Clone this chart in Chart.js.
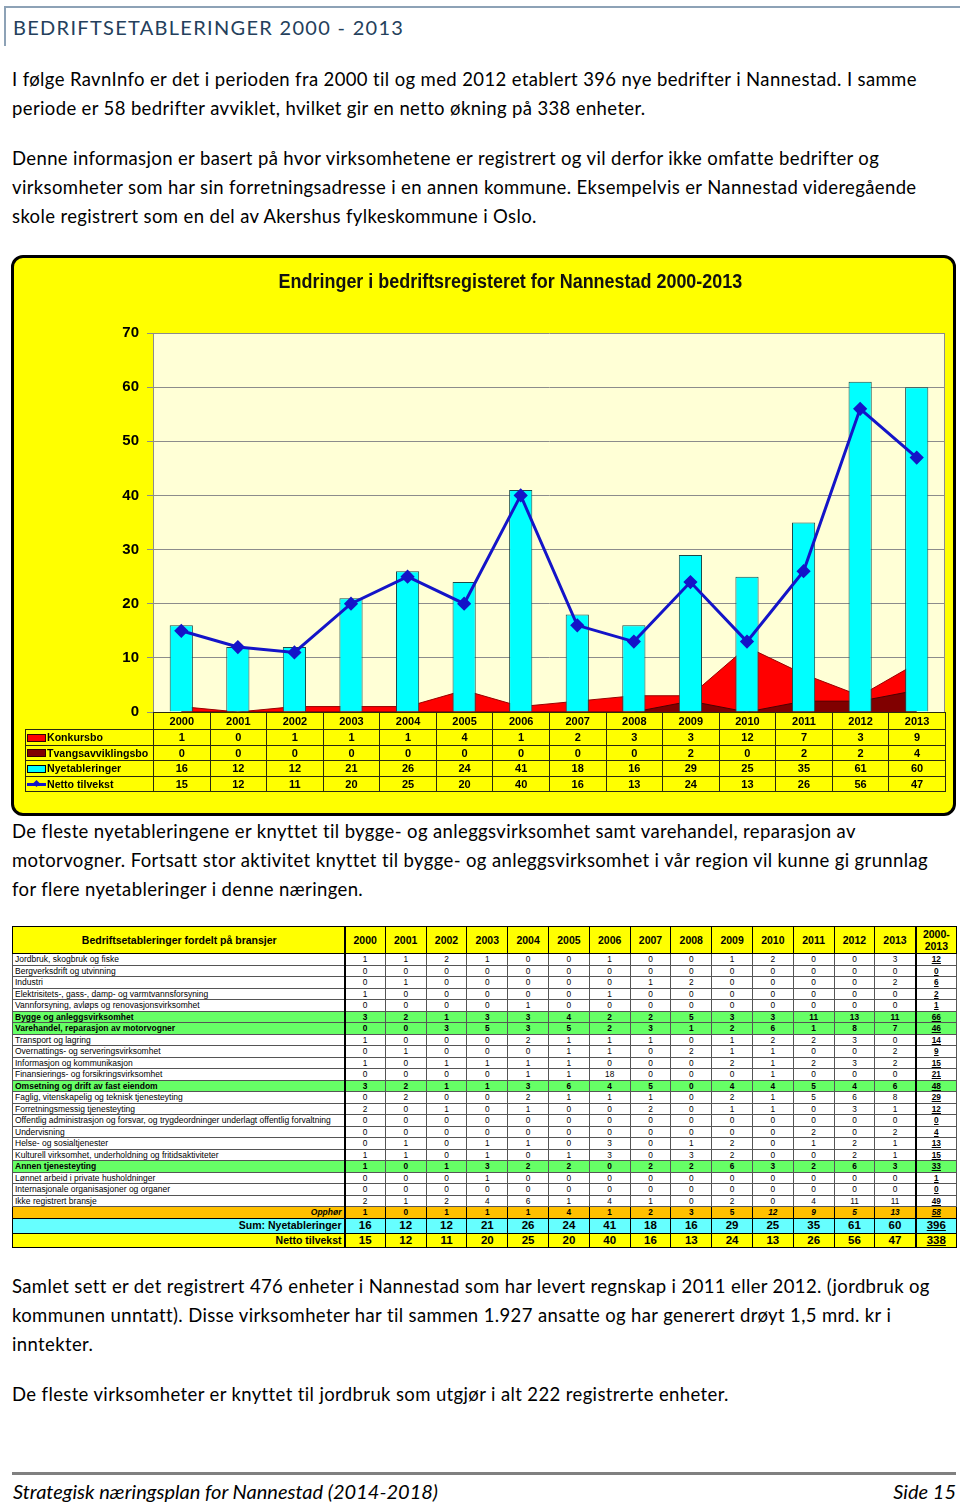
<!DOCTYPE html>
<html><head><meta charset="utf-8">
<script src="https://cdn.jsdelivr.net/npm/chart.js@4.4.1/dist/chart.umd.min.js"></script>
<style>
html,body{margin:0;padding:0;background:#fff;}
body{width:960px;height:1503px;position:relative;overflow:hidden;font-family:Lato,'Open Sans',sans-serif;color:#000;}
.hdrbox{position:absolute;left:4px;top:6px;width:956px;height:38px;border-top:2px solid #8da2b6;border-left:2px solid #8da2b6;}
.hdr{position:absolute;left:13px;top:13px;font-family:Lato,sans-serif;font-size:20px;letter-spacing:1.3px;color:#243f5c;white-space:nowrap;line-height:28px;}
.ln{position:absolute;left:12px;white-space:nowrap;font-family:Lato,sans-serif;font-size:18.5px;letter-spacing:0.37px;line-height:24px;}
.frame{position:absolute;left:11px;top:255px;width:945px;height:561px;box-sizing:border-box;background:#ffff00;border:3px solid #000;border-radius:12px;}
#cv{position:absolute;left:12px;top:256px;}
.ctitle{position:absolute;left:12px;width:996px;top:269px;text-align:center;}
.ctitle span{display:inline-block;transform:scaleX(0.897);transform-origin:50% 50%;font-family:'Liberation Sans',Arial,sans-serif;font-weight:bold;font-size:20px;line-height:24px;color:#111;white-space:nowrap;}
#dt{position:absolute;left:25px;top:712px;border-collapse:collapse;table-layout:fixed;font-family:'Liberation Sans',Arial,sans-serif;font-weight:bold;font-size:11px;color:#000;}
#dt td{border:1px solid #2a2a10;padding:0;text-align:center;white-space:nowrap;overflow:hidden;}
#dt tr{height:15.6px;}
#dt tr.h{height:17px;}
#dt td.blank{border:none;}
#dt td.lab{text-align:left;padding-left:1px;font-size:10.6px;}
.k{display:inline-block;width:17px;height:6px;border:1px solid #300;vertical-align:middle;margin-right:1px;position:relative;top:-1px;}
.kl{display:inline-block;width:19px;height:3px;background:#1414c8;vertical-align:middle;margin-right:1px;position:relative;top:-1px;}
.kl:after{content:'';position:absolute;left:7px;top:-2px;width:5px;height:5px;background:#1414c8;transform:rotate(45deg);}
#bt{position:absolute;left:12px;top:926px;width:943px;border-collapse:collapse;table-layout:fixed;font-family:'Liberation Sans',Arial,sans-serif;color:#000;}
#bt td{border:1px solid #555;padding:0;text-align:center;white-space:nowrap;overflow:hidden;font-size:8.3px;line-height:10px;}
#bt tr{height:11.5px;}
#bt td.l{text-align:left;padding-left:2px;border-right:2px solid #000;font-size:8.5px;}
#bt td.t{border-left:2px solid #000;font-weight:bold;text-decoration:underline;}
#bt tr.head{height:27px;background:#ffff00;}
#bt tr.head td{font-weight:bold;font-size:10.5px;line-height:12px;border-color:#000;}
#bt tr.head td.l{text-align:center;font-size:10.5px;}
#bt tr.g{background:#66ff66;font-weight:bold;}
#bt tr.g td{font-weight:bold;}
#bt tr.o{background:#ffc000;}
#bt tr.o td{font-weight:bold;border-color:#000;}
#bt tr.o td.l{text-align:right;font-style:italic;padding-right:2px;}
#bt tr.o td.it{font-style:italic;}
#bt tr.s{height:15px;background:#66ffff;}
#bt tr.n{height:14px;background:#ffff00;}
#bt tr.s td,#bt tr.n td{font-weight:bold;font-size:11.5px;line-height:13px;border-color:#000;}
#bt tr.s td.l,#bt tr.n td.l{text-align:right;font-size:10.5px;padding-right:2px;}
.foot{position:absolute;left:12px;top:1472px;width:944px;height:3px;background:#808080;}
.ft{position:absolute;top:1479px;font-family:Lato,sans-serif;font-style:italic;font-size:20px;line-height:24px;white-space:nowrap;}
</style></head>
<body>
<div class="hdrbox"></div>
<div class="hdr">BEDRIFTSETABLERINGER 2000 - 2013</div>

<div class="ln" style="top:67px">I følge RavnInfo er det i perioden fra 2000 til og med 2012 etablert 396 nye bedrifter i Nannestad. I samme</div>
<div class="ln" style="top:96px">periode er 58 bedrifter avviklet, hvilket gir en netto økning på 338 enheter.</div>
<div class="ln" style="top:146px">Denne informasjon er basert på hvor virksomhetene er registrert og vil derfor ikke omfatte bedrifter og</div>
<div class="ln" style="top:175px">virksomheter som har sin forretningsadresse i en annen kommune. Eksempelvis er Nannestad videregående</div>
<div class="ln" style="top:204px">skole registrert som en del av Akershus fylkeskommune i Oslo.</div>

<div class="frame"></div>
<canvas id="cv" width="943" height="559"></canvas>
<div class="ctitle"><span>Endringer i bedriftsregisteret for Nannestad 2000-2013</span></div>
<table id="dt"></table>

<div class="ln" style="top:819px">De fleste nyetableringene er knyttet til bygge- og anleggsvirksomhet samt varehandel, reparasjon av</div>
<div class="ln" style="top:848px">motorvogner. Fortsatt stor aktivitet knyttet til bygge- og anleggsvirksomhet i vår region vil kunne gi grunnlag</div>
<div class="ln" style="top:877px">for flere nyetableringer i denne næringen.</div>

<table id="bt"></table>

<div class="ln" style="top:1274px">Samlet sett er det registrert 476 enheter i Nannestad som har levert regnskap i 2011 eller 2012. (jordbruk og</div>
<div class="ln" style="top:1303px">kommunen unntatt). Disse virksomheter har til sammen 1.927 ansatte og har generert drøyt 1,5 mrd. kr i</div>
<div class="ln" style="top:1332px">inntekter.</div>
<div class="ln" style="top:1382px">De fleste virksomheter er knyttet til jordbruk som utgjør i alt 222 registrerte enheter.</div>

<div class="foot"></div>
<div class="ft" style="left:13px">Strategisk næringsplan for Nannestad (2014-2018)</div>
<div class="ft" style="right:4px">Side 15</div>

<script>
// ---- Chart data ----
const years = ['2000','2001','2002','2003','2004','2005','2006','2007','2008','2009','2010','2011','2012','2013'];
const konkursbo = [1,0,1,1,1,4,1,2,3,3,12,7,3,9];
const tvangsavviklingsbo = [0,0,0,0,0,0,0,0,0,2,0,2,2,4];
const nyetableringer = [16,12,12,21,26,24,41,18,16,29,25,35,61,60];
const nettoTilvekst = [15,12,11,20,25,20,40,16,13,24,13,26,56,47];
const yMin = 0, yMax = 70, yStep = 10;

// ---- Branch table data ----
const branchLabels = [
 'Jordbruk, skogbruk og fiske','Bergverksdrift og utvinning','Industri',
 'Elektrisitets-, gass-, damp- og varmtvannsforsyning','Vannforsyning, avløps og renovasjonsvirksomhet',
 'Bygge og anleggsvirksomhet','Varehandel, reparasjon av motorvogner','Transport og lagring',
 'Overnattings- og serveringsvirksomhet','Informasjon og kommunikasjon','Finansierings- og forsikringsvirksomhet',
 'Omsetning og drift av fast eiendom','Faglig, vitenskapelig og teknisk tjenesteyting','Forretningsmessig tjenesteyting',
 'Offentlig administrasjon og forsvar, og trygdeordninger underlagt offentlig forvaltning','Undervisning',
 'Helse- og sosialtjenester','Kulturell virksomhet, underholdning og fritidsaktiviteter','Annen tjenesteyting',
 'Lønnet arbeid i private husholdninger','Internasjonale organisasjoner og organer','Ikke registrert bransje'];
const jordbruk      = [1,1,2,1,0,0,1,0,0,1,2,0,0,3,12];
const bergverk      = [0,0,0,0,0,0,0,0,0,0,0,0,0,0,0];
const industri      = [0,1,0,0,0,0,0,1,2,0,0,0,0,2,6];
const elektrisitet  = [1,0,0,0,0,0,1,0,0,0,0,0,0,0,2];
const vannforsyning = [0,0,0,0,1,0,0,0,0,0,0,0,0,0,1];
const bygge         = [3,2,1,3,3,4,2,2,5,3,3,11,13,11,66];
const varehandel    = [0,0,3,5,3,5,2,3,1,2,6,1,8,7,46];
const transport     = [1,0,0,0,2,1,1,1,0,1,2,2,3,0,14];
const overnatting   = [0,1,0,0,0,1,1,0,2,1,1,0,0,2,9];
const informasjon   = [1,0,1,1,1,1,0,0,0,2,1,2,3,2,15];
const finansiering  = [0,0,0,0,1,1,18,0,0,0,1,0,0,0,21];
const eiendom       = [3,2,1,1,3,6,4,5,0,4,4,5,4,6,48];
const faglig        = [0,2,0,0,2,1,1,1,0,2,1,5,6,8,29];
const forretning    = [2,0,1,0,1,0,0,2,0,1,1,0,3,1,12];
const offentlig     = [0,0,0,0,0,0,0,0,0,0,0,0,0,0,0];
const undervisning  = [0,0,0,0,0,0,0,0,0,0,0,2,0,2,4];
const helse         = [0,1,0,1,1,0,3,0,1,2,0,1,2,1,13];
const kultur        = [1,1,0,1,0,1,3,0,3,2,0,0,2,1,15];
const annen         = [1,0,1,3,2,2,0,2,2,6,3,2,6,3,33];
const husholdning   = [0,0,0,1,0,0,0,0,0,0,0,0,0,0,1];
const internasjonal = [0,0,0,0,0,0,0,0,0,0,0,0,0,0,0];
const ikkeRegistrert= [2,1,2,4,6,1,4,1,0,2,0,4,11,11,49];
const branchRows = [jordbruk,bergverk,industri,elektrisitet,vannforsyning,bygge,varehandel,transport,
  overnatting,informasjon,finansiering,eiendom,faglig,forretning,offentlig,undervisning,helse,kultur,annen,
  husholdning,internasjonal,ikkeRegistrert];
const greenRows = [5,6,11,18];
const opphor      = [1,0,1,1,1,4,1,2,3,5,12,9,5,13,58];
const sumNy       = [16,12,12,21,26,24,41,18,16,29,25,35,61,60,396];
const sumNetto    = [15,12,11,20,25,20,40,16,13,24,13,26,56,47,338];
const tableYears  = years.concat(['2000-<br>2013']);

// ---- chart ----
const plotBg = {
  id:'plotBg',
  beforeDraw(c){const {ctx,chartArea:a}=c;ctx.save();ctx.fillStyle='#ffffd6';ctx.fillRect(a.left,a.top,a.width,a.height);ctx.restore();},
  afterDraw(c){const {ctx,chartArea:a}=c;ctx.save();ctx.strokeStyle='#8c8c8c';ctx.lineWidth=1;
    ctx.beginPath();ctx.moveTo(a.right-0.5,a.top);ctx.lineTo(a.right-0.5,a.bottom);ctx.stroke();ctx.restore();}
};
new Chart(document.getElementById('cv'),{
  type:'bar',
  data:{labels:years,datasets:[
    {type:'line',label:'Netto tilvekst',data:nettoTilvekst,borderColor:'#1414c8',backgroundColor:'#1414c8',borderWidth:3,
     pointStyle:'rectRot',pointRadius:5,pointHoverRadius:5,fill:false,tension:0,order:0},
    {type:'bar',label:'Nyetableringer',data:nyetableringer,backgroundColor:'#00ffff',borderColor:'#1d4a4a',borderWidth:1,
     barPercentage:0.41,categoryPercentage:1,order:1},
    {type:'line',label:'Tvangsavviklingsbo',data:tvangsavviklingsbo,backgroundColor:'#800000',borderColor:'#4a0000',borderWidth:1,
     pointRadius:0,fill:'origin',tension:0,order:2},
    {type:'line',label:'Konkursbo',data:konkursbo,backgroundColor:'#ff0000',borderColor:'#9a0000',borderWidth:1,
     pointRadius:0,fill:'origin',tension:0,order:3}
  ]},
  options:{
    responsive:false,animation:false,devicePixelRatio:1,
    layout:{padding:{left:0,right:10,top:77,bottom:103}},
    plugins:{legend:{display:false},tooltip:{enabled:false},title:{display:false}},
    scales:{
      x:{display:false,offset:true},
      y:{min:yMin,max:yMax,
         ticks:{stepSize:yStep,color:'#000',padding:8,font:{family:"'Liberation Sans',Arial",size:15,weight:'bold'}},
         grid:{color:'#8c8c8c',tickLength:6,tickColor:'#8c8c8c',lineWidth:1},
         border:{color:'#8c8c8c'},
         afterFit(s){s.width=141;}}
    }
  },
  plugins:[plotBg]
});

// ---- chart data table ----
(function(){
  const t=document.getElementById('dt');
  const colW=(945-153)/years.length;
  let h='<colgroup><col style="width:128px">'+years.map(()=>`<col style="width:${colW}px">`).join('')+'</colgroup>';
  h+='<tr class="h"><td class="blank"></td>'+years.map(y=>`<td>${y}</td>`).join('')+'</tr>';
  const rows=[
    ['<span class="k" style="background:#ff0000"></span>Konkursbo',konkursbo],
    ['<span class="k" style="background:#800000"></span>Tvangsavviklingsbo',tvangsavviklingsbo],
    ['<span class="k" style="background:#00ffff;border-color:#000"></span>Nyetableringer',nyetableringer],
    ['<span class="kl"></span>Netto tilvekst',nettoTilvekst]];
  rows.forEach(r=>{h+=`<tr><td class="lab">${r[0]}</td>`+r[1].map(v=>`<td>${v}</td>`).join('')+'</tr>';});
  t.innerHTML=h;
  t.style.width=(128+colW*years.length)+'px';
})();

// ---- branch table ----
(function(){
  const t=document.getElementById('bt');
  const yw=40.8;
  let h='<colgroup><col style="width:332px">'+tableYears.map(()=>`<col style="width:${yw}px">`).join('')+'</colgroup>';
  h+='<tr class="head"><td class="l">Bedriftsetableringer fordelt på bransjer</td>'+
     tableYears.map((y,i)=>`<td${i===14?' class="t" style="text-decoration:none"':''}>${y}</td>`).join('')+'</tr>';
  branchRows.forEach((r,i)=>{
    h+=`<tr${greenRows.includes(i)?' class="g"':''}><td class="l">${branchLabels[i]}</td>`+
       r.map((v,j)=>`<td${j===14?' class="t"':''}>${v}</td>`).join('')+'</tr>';
  });
  h+='<tr class="o"><td class="l">Opphør</td>'+opphor.map((v,j)=>`<td class="${j>=10?'it':''}${j===14?' t':''}">${v}</td>`).join('')+'</tr>';
  h+='<tr class="s"><td class="l">Sum: Nyetableringer</td>'+sumNy.map((v,j)=>`<td${j===14?' class="t"':' style="text-decoration:none"'}>${v}</td>`).join('')+'</tr>';
  h+='<tr class="n"><td class="l">Netto tilvekst</td>'+sumNetto.map((v,j)=>`<td${j===14?' class="t"':''}>${v}</td>`).join('')+'</tr>';
  t.innerHTML=h;
})();
</script>
</body></html>
